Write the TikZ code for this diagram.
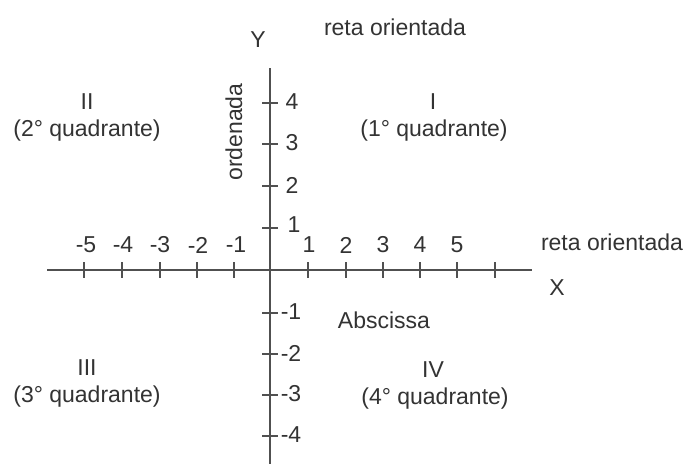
\documentclass[tikz,border=0pt]{standalone}
\usepackage{fontspec}
\setmainfont{Liberation Sans}
\definecolor{txt}{HTML}{333333}
\definecolor{ln}{HTML}{505050}
\begin{document}
\begin{tikzpicture}[x=1pt,y=-1pt,
  lbl/.style={text=txt, font=\fontsize{23}{27}\selectfont, inner sep=0pt},
  axisline/.style={draw=ln, line width=1.5pt},
  tickline/.style={draw=ln, line width=1.2pt}]
\useasboundingbox[fill=white] (0,0) rectangle (687,466);
% axes
\coordinate (xl) at (47,270);
\coordinate (xr) at (532,270);
\coordinate (yt) at (270,68);
\coordinate (yb) at (270,464);
\draw[axisline] (xl) -- (xr);
\draw[axisline] (yt) -- (yb);
% x ticks
\foreach \x in {84,122,160,197,234,308,346,383,420,457,495}
  \draw[tickline] (\x,262) -- (\x,278);
% y ticks
\foreach \y in {103,144,186,228,313,354,395,436}
  \draw[tickline] (262,\y) -- (278,\y);
% x labels
\node[lbl] (xm5) at (86,245) {-5};
\node[lbl] (xm4) at (123,245) {-4};
\node[lbl] (xm3) at (160,245) {-3};
\node[lbl] (xm2) at (198,245) {-2};
\node[lbl] (xm1) at (236,245) {-1};
\node[lbl] (xp1) at (309,245) {1};
\node[lbl] (xp2) at (346,245) {2};
\node[lbl] (xp3) at (383,245) {3};
\node[lbl] (xp4) at (420,245) {4};
\node[lbl] (xp5) at (457,245) {5};
% y labels
\node[lbl] (yp4) at (292,102) {4};
\node[lbl] (yp3) at (292,143) {3};
\node[lbl] (yp2) at (292,185) {2};
\node[lbl] (yp1) at (294,225) {1};
\node[lbl] (ym1) at (291,312) {-1};
\node[lbl] (ym2) at (291,353) {-2};
\node[lbl] (ym3) at (291,394) {-3};
\node[lbl] (ym4) at (291,435) {-4};
% axis names
\node[lbl] (Y) at (258,40) {Y};
\node[lbl] (X) at (557,288) {X};
\node[lbl] (rtop) at (395,27) {reta orientada};
\node[lbl] (rright) at (612,242) {reta orientada};
\node[lbl, rotate=90] (ord) at (234,132) {ordenada};
\node[lbl] (absc) at (384,320) {Abscissa};
% quadrants
\node[lbl] (q2a) at (87,102) {II};
\node[lbl] (q2b) at (87,131) {(2° quadrante)};
\node[lbl] (q1a) at (433,102) {I};
\node[lbl] (q1b) at (434,131) {(1° quadrante)};
\node[lbl] (q3a) at (87,368) {III};
\node[lbl] (q3b) at (87,397) {(3° quadrante)};
\node[lbl] (q4a) at (433,370) {IV};
\node[lbl] (q4b) at (435,399) {(4° quadrante)};
\end{tikzpicture}
\end{document}
